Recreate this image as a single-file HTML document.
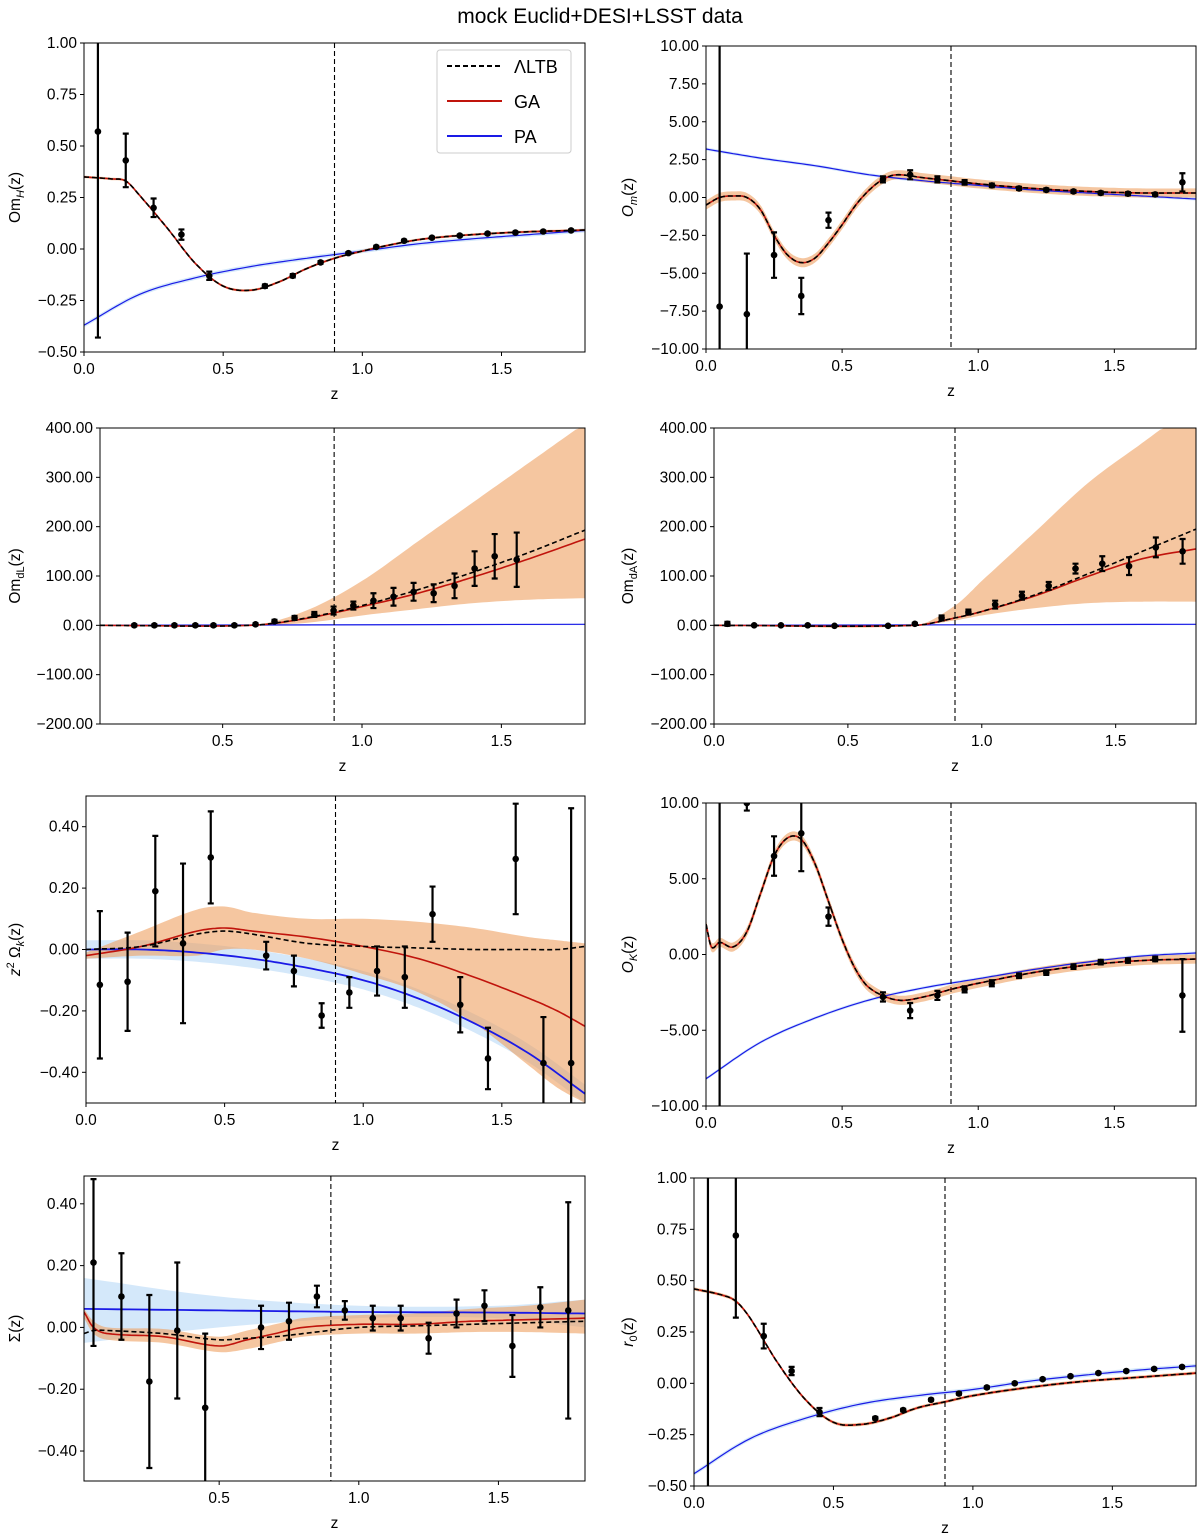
<!DOCTYPE html>
<html><head><meta charset="utf-8"><style>
html,body{margin:0;padding:0;background:#fff;width:1200px;height:1540px;overflow:hidden}
svg{display:block;font-family:"Liberation Sans",sans-serif}
</style></head><body>
<svg id="chart" width="1200" height="1540" viewBox="0 0 1200 1540" xmlns="http://www.w3.org/2000/svg">
<text x="600" y="23" text-anchor="middle" font-size="21">mock Euclid+DESI+LSST data</text>
</svg>
<script>
// ---------- DATA ----------
const ptZ=[0.05,0.15,0.25,0.35,0.45,0.65,0.75,0.85,0.95,1.05,1.15,1.25,1.35,1.45,1.55,1.65,1.75];
// Panel 1 OmH
const p1Y=[0.57,0.43,0.2,0.07,-0.13,-0.18,-0.13,-0.065,-0.02,0.01,0.04,0.055,0.065,0.075,0.08,0.085,0.09];
const p1E=[1.0,0.13,0.045,0.025,0.02,0.008,0.008,0.006,0.005,0.005,0.005,0.004,0.004,0.004,0.004,0.004,0.004];
const p1Kz=[0,0.1,0.15,0.2,0.3,0.4,0.5,0.6,0.7,0.8,0.9,1.0,1.1,1.2,1.3,1.4,1.5,1.6,1.7,1.8];
const p1GA=[0.35,0.34,0.33,0.26,0.1,-0.07,-0.18,-0.2,-0.16,-0.095,-0.045,-0.01,0.02,0.045,0.06,0.07,0.078,0.084,0.088,0.092];
const p1Pz=[0,0.2,0.4,0.6,0.8,1.0,1.2,1.4,1.6,1.8];
const p1PA=[-0.37,-0.22,-0.14,-0.085,-0.045,-0.01,0.025,0.05,0.07,0.09];
// Panel 2 Om
const p2Y=[-7.2,-7.7,-3.8,-6.5,-1.5,1.2,1.5,1.2,1.0,0.8,0.6,0.5,0.4,0.3,0.25,0.2,1.0];
const p2E=[25,4,1.5,1.2,0.5,0.2,0.3,0.2,0.15,0.12,0.1,0.1,0.1,0.1,0.1,0.1,0.6];
const p2Kz=[0,0.05,0.1,0.15,0.2,0.25,0.3,0.35,0.4,0.45,0.5,0.55,0.6,0.65,0.7,0.8,0.9,1.0,1.2,1.4,1.6,1.8];
const p2GA=[-0.5,0,0.1,0,-0.8,-2.5,-3.8,-4.3,-4.0,-3.0,-1.8,-0.5,0.5,1.2,1.5,1.3,1.1,0.9,0.6,0.4,0.3,0.3];
const p2Pz=[0,0.2,0.4,0.6,0.8,1.0,1.2,1.4,1.6,1.8];
const p2PA=[3.2,2.6,2.1,1.5,1.1,0.8,0.5,0.3,0.1,-0.1];
// Panel 3 OmdL
const p3Z=[0.183,0.255,0.327,0.402,0.467,0.542,0.618,0.686,0.758,0.829,0.898,0.969,1.041,1.113,1.185,1.257,1.332,1.404,1.476,1.555];
const p3Y=[0,0,0,0,0,0,2,8,15,22,30,40,50,58,68,65,80,115,140,133];
const p3E=[2,2,2,2,2,2,2,3,4,5,8,8,15,18,18,18,25,35,45,55];
const p3Kz=[0.06,0.6,0.8,1.0,1.2,1.4,1.6,1.8];
const p3GA=[0,0,14,38,65,98,135,175];
const p3Hi=[0,0,30,90,170,250,330,410];
const p3Lo=[0,0,5,20,33,45,52,55];
const p3LTB=[0,0,15,40,72,108,148,193];
const p3Pz=[0.06,1.8];
const p3PA=[0,2];
// Panel 4 OmdA
const p4Y=[3,0,0,0,-1,-1,3,15,27,42,60,80,115,125,120,158,150];
const p4E=[4,1,1,1,1,1,2,5,5,8,8,8,10,15,18,20,25];
const p4Kz=[0,0.75,0.9,1.0,1.2,1.4,1.6,1.8];
const p4GA=[0,0,15,28,60,100,135,155];
const p4Hi=[0,0,40,90,190,290,370,450];
const p4Lo=[0,0,10,20,35,45,48,48];
const p4LTB=[0,0,15,28,62,105,150,195];
const p4Pz=[0,1.8];
const p4PA=[0,2];
// Panel 5 z^2 Omega_k
const p5Y=[-0.115,-0.105,0.19,0.02,0.3,-0.02,-0.07,-0.215,-0.14,-0.07,-0.09,0.115,-0.18,-0.355,0.295,-0.37,-0.37];
const p5E=[0.24,0.16,0.18,0.26,0.15,0.045,0.05,0.04,0.05,0.08,0.1,0.09,0.09,0.1,0.18,0.15,0.83];
const p5Kz=[0,0.2,0.4,0.5,0.6,0.8,1.0,1.2,1.4,1.6,1.7,1.8];
const p5GA=[-0.02,0.01,0.06,0.07,0.06,0.04,0.01,-0.03,-0.09,-0.16,-0.2,-0.25];
const p5Hi=[-0.01,0.06,0.13,0.14,0.12,0.1,0.1,0.09,0.07,0.04,0.03,0.02];
const p5Lo=[-0.03,-0.02,-0.02,0.0,0.0,-0.03,-0.08,-0.14,-0.24,-0.38,-0.45,-0.5];
const p5LTB=[0,0.01,0.05,0.06,0.05,0.02,0.01,0.005,0,0,0,0.01];
const p5Pz=[0,0.2,0.4,0.6,0.8,1.0,1.2,1.4,1.6,1.8];
const p5PA=[0,0,-0.01,-0.03,-0.06,-0.1,-0.16,-0.24,-0.34,-0.47];
// Panel 6 OK
const p6Y=[-11,10,6.5,8,2.5,-2.8,-3.7,-2.7,-2.3,-1.9,-1.4,-1.2,-0.8,-0.5,-0.4,-0.3,-2.7];
const p6E=[25,0.5,1.3,2.5,0.6,0.3,0.5,0.3,0.2,0.2,0.15,0.15,0.15,0.15,0.15,0.15,2.4];
const p6Kz=[0,0.02,0.05,0.1,0.15,0.2,0.25,0.3,0.35,0.4,0.45,0.5,0.55,0.6,0.7,0.8,0.9,1.0,1.2,1.4,1.6,1.8];
const p6GA=[2,0.5,0.8,0.5,1.5,4,6.5,7.7,7.6,6,3.5,1,-1,-2.2,-3,-2.8,-2.3,-1.9,-1.2,-0.7,-0.4,-0.3];
const p6Pz=[0,0.2,0.4,0.6,0.8,1.0,1.2,1.4,1.6,1.8];
const p6PA=[-8.2,-5.8,-4.2,-3.0,-2.2,-1.6,-1.0,-0.5,-0.1,0.1];
// Panel 7 Sigma
const p7Y=[0.21,0.1,-0.175,-0.01,-0.26,0.0,0.02,0.1,0.055,0.03,0.03,-0.035,0.045,0.07,-0.06,0.065,0.055];
const p7E=[0.27,0.14,0.28,0.22,0.24,0.07,0.06,0.035,0.03,0.04,0.04,0.05,0.045,0.05,0.1,0.065,0.35];
const p7Kz=[0.016,0.05,0.1,0.3,0.5,0.6,0.7,0.8,1.0,1.2,1.4,1.6,1.81];
const p7GA=[0.05,0.0,-0.02,-0.03,-0.06,-0.04,-0.02,0.0,0.01,0.01,0.02,0.025,0.03];
const p7Hi=[0.06,0.02,0.0,-0.005,-0.03,-0.01,0.01,0.03,0.04,0.045,0.06,0.07,0.09];
const p7Lo=[0.03,-0.02,-0.04,-0.05,-0.08,-0.07,-0.05,-0.03,-0.02,-0.02,-0.015,-0.015,-0.02];
const p7LTB=[-0.02,-0.01,-0.01,-0.02,-0.04,-0.035,-0.03,-0.02,0,0.005,0.01,0.015,0.02];
const p7Pz=[0.016,0.5,1.0,1.5,1.81];
const p7PA=[0.06,0.055,0.05,0.048,0.045];
const p7PAHi=[0.16,0.1,0.07,0.07,0.09];
const p7PALo=[-0.05,0.0,0.03,0.03,0.0];
// Panel 8 r0
const p8Y=[-0.6,0.72,0.23,0.06,-0.14,-0.17,-0.13,-0.08,-0.05,-0.02,0.0,0.02,0.035,0.05,0.06,0.07,0.08];
const p8E=[2,0.4,0.06,0.02,0.02,0.006,0.006,0.005,0.005,0.005,0.004,0.004,0.004,0.004,0.004,0.004,0.004];
const p8Kz=[0,0.1,0.15,0.2,0.3,0.4,0.5,0.6,0.7,0.8,0.9,1.0,1.2,1.4,1.6,1.8];
const p8GA=[0.46,0.43,0.4,0.32,0.1,-0.08,-0.19,-0.2,-0.17,-0.12,-0.09,-0.06,-0.02,0.01,0.03,0.05];
const p8Pz=[0,0.2,0.4,0.6,0.8,1.0,1.2,1.4,1.6,1.8];
const p8PA=[-0.44,-0.27,-0.17,-0.1,-0.06,-0.03,0.01,0.04,0.065,0.085];

// ---------- RENDER ----------
const NS='http://www.w3.org/2000/svg';
const svg=document.getElementById('chart');
function mk(tag,parent,attrs){const e=document.createElementNS(NS,tag);for(const k in attrs)e.setAttribute(k,attrs[k]);parent.appendChild(e);return e;}
function sample(zs,ys){
  const out=[];const n=zs.length;
  if(n<3){for(let i=0;i<n;i++)out.push([zs[i],ys[i]]);return out;}
  for(let i=0;i<n-1;i++){
    const y0=ys[Math.max(0,i-1)],y1=ys[i],y2=ys[i+1],y3=ys[Math.min(n-1,i+2)];
    const z0=zs[Math.max(0,i-1)],z3=zs[Math.min(n-1,i+2)];
    const m1=(y2-y0)/(zs[i+1]-z0)*(zs[i+1]-zs[i]);
    const m2=(y3-y1)/(z3-zs[i])*(zs[i+1]-zs[i]);
    for(let k=0;k<12;k++){const t=k/12,t2=t*t,t3=t2*t;
      const y=(2*t3-3*t2+1)*y1+(t3-2*t2+t)*m1+(-2*t3+3*t2)*y2+(t3-t2)*m2;
      out.push([zs[i]+t*(zs[i+1]-zs[i]),y]);}
  }
  out.push([zs[n-1],ys[n-1]]);return out;
}
let pid=0;
function panel(P){
  pid++;
  const g=mk('g',svg,{});
  
  
  const sx=z=>P.L+(z-P.x0)/(P.x1-P.x0)*(P.R-P.L);
  const syRaw=v=>P.B-(v-P.y0)/(P.y1-P.y0)*(P.B-P.T);
  const sy=v=>Math.max(P.T,Math.min(P.B,syRaw(v)));
  const cp=mk('clipPath',g,{id:'cp'+pid});
  mk('rect',cp,{x:P.L,y:P.T,width:P.R-P.L,height:P.B-P.T});
  const pg=mk('g',g,{'clip-path':'url(#cp'+pid+')'});
  const line=(pts)=>pts.map((p,i)=>(i?'L':'M')+sx(p[0]).toFixed(1)+','+sy(p[1]).toFixed(1)).join('');
  const band=(zs,lo,hi,fill,op,name)=>{
    const a=sample(zs,hi),b=sample(zs,lo).reverse();
    const e=mk('path',pg,{d:line(a.concat(b))+'Z',fill:fill,'fill-opacity':op,stroke:'none'});
    
    
  };
  const curve=(zs,ys,col,w,dash,name)=>{
    const e=mk('path',pg,{d:line(sample(zs,ys)),fill:'none',stroke:col,'stroke-width':w});
    if(dash)e.setAttribute('stroke-dasharray',dash);
    
    
  };
  const paHi=P.paHi||P.pa.map(v=>v+P.paW), paLo=P.paLo||P.pa.map(v=>v-P.paW);
  band(P.paz,paLo,paHi,'#a9d2f5',0.5,'pa-band');
  const gaHi=P.gaHi||P.ga.map(v=>v+P.gaW), gaLo=P.gaLo||P.ga.map(v=>v-P.gaW);
  band(P.gaz,gaLo,gaHi,'#eea060',0.6,'ga-band');
  curve(P.paz,P.pa,'#1a1ae6',P.paLW||1.2,null,'pa-line');
  curve(P.gaz,P.ga,'#c0140c',1.6,null,'ga-line');
  curve(P.gaz,P.ltb||P.ga,'#000',1.6,'5,3','ltb-line');
  const vl=mk('line',pg,{x1:sx(0.9),x2:sx(0.9),y1:P.T,y2:P.B,stroke:'#000','stroke-width':1.1,'stroke-dasharray':'5,3'});
  
  
  const pts=mk('g',pg,{});
  
  
  for(let i=0;i<P.pz.length;i++){
    const x=sx(P.pz[i]);
    const yr=syRaw(P.py[i]),ytr=syRaw(P.py[i]+P.pe[i]),ybr=syRaw(P.py[i]-P.pe[i]);
    const yt=sy(P.py[i]+P.pe[i]),yb=sy(P.py[i]-P.pe[i]);
    let d=`M${x},${yt}L${x},${yb}`;
    if(ytr>=P.T)d+=`M${x-3},${yt}L${x+3},${yt}`;
    if(ybr<=P.B)d+=`M${x-3},${yb}L${x+3},${yb}`;
    const eb=mk('path',pts,{d:d,stroke:'#000','stroke-width':2.2,fill:'none'});
    
    
    if(yr>=P.T-2&&yr<=P.B+2){
      const c=mk('circle',pts,{cx:x,cy:yr,r:3.3,fill:'#000'});
      
      
    }
  }
  const fr=mk('rect',g,{x:P.L,y:P.T,width:P.R-P.L,height:P.B-P.T,fill:'none',stroke:'#000','stroke-width':1});
  
  
  P.xt.forEach(t=>{const x=sx(t);
    mk('line',g,{x1:x,x2:x,y1:P.B,y2:P.B+4,stroke:'#000'});
    const tx=mk('text',g,{x:x,y:P.B+22,'text-anchor':'middle','font-size':15.5});tx.textContent=t.toFixed(1);
    
    });
  P.yt.forEach(t=>{const y=sy(t);
    mk('line',g,{x1:P.L-4,x2:P.L,y1:y,y2:y,stroke:'#000'});
    const tx=mk('text',g,{x:P.L-7,y:y+5,'text-anchor':'end','font-size':15.5});tx.textContent=(t<0?'\u2212':'')+Math.abs(t).toFixed(2);
    
    });
  const xl=mk('text',g,{x:(P.L+P.R)/2,y:P.B+47,'text-anchor':'middle','font-size':15.5});xl.textContent='z';
  
  
  const yl=mk('text',g,{x:0,y:0,'text-anchor':'middle','font-size':15.5,transform:`translate(${P.ylx},${(P.T+P.B)/2}) rotate(-90)`});
  yl.innerHTML=P.ylab;
  
  
}
const sub=s=>`<tspan font-size="11" dy="4">${s}</tspan><tspan dy="-4">(z)</tspan>`;
const xt5=[0,0.5,1.0,1.5], xt3=[0.5,1.0,1.5];
panel({name:'panel-omh',L:84,R:585,T:43,B:352,x0:0,x1:1.8,y0:-0.5,y1:1,xt:xt5,yt:[-0.5,-0.25,0,0.25,0.5,0.75,1],
  pz:ptZ,py:p1Y,pe:p1E,gaz:p1Kz,ga:p1GA,gaW:0.006,paz:p1Pz,pa:p1PA,paW:0.01,ylx:20,ylab:'Om'+sub('<tspan font-style="italic">H</tspan>')});
panel({name:'panel-om',L:706,R:1196,T:46,B:349,x0:0,x1:1.8,y0:-10,y1:10,xt:xt5,yt:[-10,-7.5,-5,-2.5,0,2.5,5,7.5,10],
  pz:ptZ,py:p2Y,pe:p2E,gaz:p2Kz,ga:p2GA,gaW:0.3,paz:p2Pz,pa:p2PA,paW:0.1,ylx:633,ylab:'<tspan font-style="italic">O</tspan>'+sub('<tspan font-style="italic">m</tspan>')});
panel({name:'panel-omdl',L:100,R:585,T:428,B:724,x0:0.06,x1:1.8,y0:-200,y1:400,xt:xt3,yt:[-200,-100,0,100,200,300,400],
  pz:p3Z,py:p3Y,pe:p3E,gaz:p3Kz,ga:p3GA,gaHi:p3Hi,gaLo:p3Lo,ltb:p3LTB,paz:p3Pz,pa:p3PA,paW:1.5,ylx:20,ylab:'Om'+sub('dL')});
panel({name:'panel-omda',L:714,R:1196,T:428,B:724,x0:0,x1:1.8,y0:-200,y1:400,xt:xt5,yt:[-200,-100,0,100,200,300,400],
  pz:ptZ,py:p4Y,pe:p4E,gaz:p4Kz,ga:p4GA,gaHi:p4Hi,gaLo:p4Lo,ltb:p4LTB,paz:p4Pz,pa:p4PA,paW:1.5,ylx:633,ylab:'Om'+sub('dA')});
panel({name:'panel-z2-omega-k',L:86,R:585,T:796,B:1103,x0:0,x1:1.8,y0:-0.5,y1:0.5,xt:xt5,yt:[-0.4,-0.2,0,0.2,0.4],
  pz:ptZ,py:p5Y,pe:p5E,gaz:p5Kz,ga:p5GA,gaHi:p5Hi,gaLo:p5Lo,ltb:p5LTB,paz:p5Pz,pa:p5PA,paW:0.03,paLW:1.8,ylx:20,
  ylab:'<tspan font-style="italic">z</tspan><tspan font-size="11" dy="-6">2</tspan><tspan dy="6"> \u03A9</tspan><tspan font-size="11" dy="4" font-style="italic">k</tspan><tspan dy="-4">(z)</tspan>'});
panel({name:'panel-ok',L:706,R:1196,T:803,B:1106,x0:0,x1:1.8,y0:-10,y1:10,xt:xt5,yt:[-10,-5,0,5,10],
  pz:ptZ,py:p6Y,pe:p6E,gaz:p6Kz,ga:p6GA,gaW:0.3,paz:p6Pz,pa:p6PA,paW:0.1,ylx:633,ylab:'<tspan font-style="italic">O</tspan>'+sub('<tspan font-style="italic">K</tspan>')});
panel({name:'panel-sigma',L:84,R:585,T:1176,B:1481,x0:0.016,x1:1.81,y0:-0.497,y1:0.49,xt:xt3,yt:[-0.4,-0.2,0,0.2,0.4],
  pz:ptZ,py:p7Y,pe:p7E,gaz:p7Kz,ga:p7GA,gaHi:p7Hi,gaLo:p7Lo,ltb:p7LTB,paz:p7Pz,pa:p7PA,paHi:p7PAHi,paLo:p7PALo,paLW:1.8,ylx:20,ylab:'\u03A3(z)'});
panel({name:'panel-r0',L:694,R:1196,T:1178,B:1486,x0:0,x1:1.8,y0:-0.5,y1:1,xt:xt5,yt:[-0.5,-0.25,0,0.25,0.5,0.75,1],
  pz:ptZ,py:p8Y,pe:p8E,gaz:p8Kz,ga:p8GA,gaW:0.008,paz:p8Pz,pa:p8PA,paW:0.01,ylx:633,ylab:'<tspan font-style="italic">r</tspan>'+sub('0')});

const lg=mk('g',svg,{});


mk('rect',lg,{x:437,y:50,width:134,height:103,rx:3,fill:'#fff','fill-opacity':0.85,stroke:'#ccc'});
const leg=[['\u039BLTB','#000','5,3'],['GA','#c0140c',null],['PA','#1a1ae6',null]];
leg.forEach((L,i)=>{const y=66+i*35;
  const e=mk('g',lg,{});
  
  
  const ln=mk('line',e,{x1:447,x2:502,y1:y,y2:y,stroke:L[1],'stroke-width':2});
  if(L[2])ln.setAttribute('stroke-dasharray',L[2]);
  const t=mk('text',e,{x:514,y:y+7,'font-size':18});t.textContent=L[0];});
</script>
</body></html>
